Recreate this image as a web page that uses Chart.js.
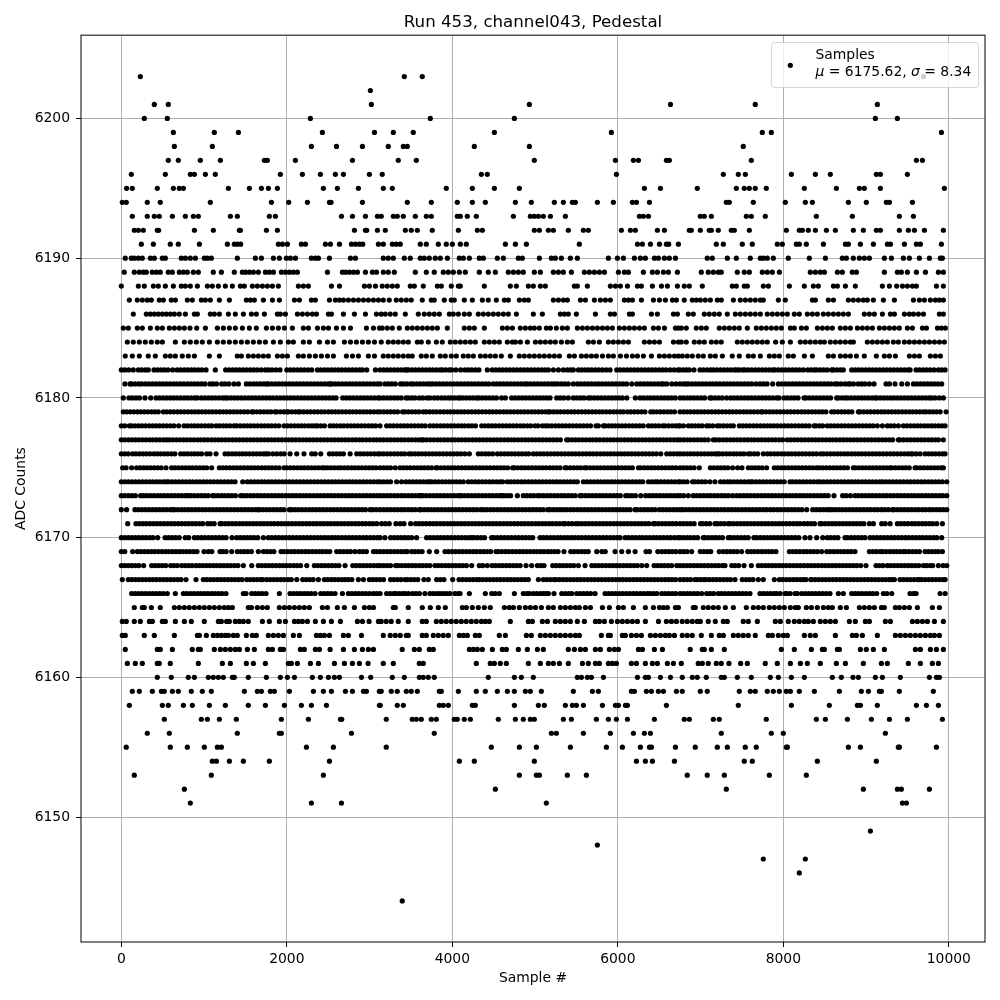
<!DOCTYPE html>
<html>
<head>
<meta charset="utf-8">
<title>Run 453, channel043, Pedestal</title>
<script src="https://cdn.jsdelivr.net/npm/chart.js@4/dist/chart.umd.min.js"></script>
<style>
html, body { margin: 0; padding: 0; background: #fff; }
canvas { display: block; }
</style>
</head>
<body>
<canvas id="grafico" width="1000" height="1000"></canvas>
<script>
// sample numbers, one list per ADC level
const adc6203 = [230,3420,3637,9693];
const adc6202 = [3010];
const adc6201 = [399,568,3022,4931,6636,7661,9136];
const adc6200 = [278,556,2285,3734,4750,9112,9378];
const adc6199 = [629,1124,1415,2430,3059,3287,3528,4508,5922,7746,7855,9910];
const adc6198 = [641,1100,2297,2600,2914,3226,3408,3456,4266,4931,7516];
const adc6197 = [568,689,955,1197,1729,1765,2104,2793,3347,3565,4991,5971,6188,6249,6587,6623,7613,9608,9681];
const adc6196 = [121,532,834,883,1016,1136,1922,2188,2406,2587,2684,2998,3153,4351,4423,5983,7275,7456,7541,8097,8387,8568,9124,9173,9499];
const adc6195 = [64,133,435,629,701,750,1294,1548,1693,1777,1886,2442,2611,2865,3166,3275,3927,4242,4508,4810,6321,6515,6960,7432,7528,7589,7661,7794,8254,8641,8919,8979,9173,9946];
const adc6194 = [12,60,314,471,1076,1814,2023,2249,2515,2535,2914,3456,3746,4060,4242,4399,4762,4955,5233,5342,5451,5487,5753,5946,6176,6225,6382,7311,7347,7637,8024,8266,8351,8786,9003,9245,9282,9560];
const adc6193 = [133,314,399,459,617,774,870,931,1318,1402,1789,1862,2660,2793,2950,3095,3141,3287,3335,3408,3553,3686,3746,4060,4097,4181,4290,4738,4943,4991,5040,5100,5185,5366,6261,6309,6370,6997,7045,7130,7553,7613,7782,8399,8834,9402,9572];
const adc6192 = [157,206,266,435,451,883,1112,1427,1439,1753,1886,2817,2950,2966,3095,3190,3432,3504,3577,3758,4073,4302,4363,4991,5052,5161,5221,5402,5584,5644,6043,6152,6212,6478,6563,6864,6888,6997,7105,7130,7214,7371,7408,7589,8036,8193,8230,8302,8387,8520,8629,8846,8967,9124,9173,9402,9511,9584,9705,9934];
const adc6191 = [242,387,592,689,943,1282,1366,1402,1443,1898,1947,2007,2176,2225,2466,2527,2636,2781,2829,2877,2918,3107,3166,3275,3323,3371,3613,3686,3831,3927,4000,4097,4169,4641,4762,4895,5535,6237,6297,6394,6503,6587,6615,6732,7190,7275,7504,7625,7927,7988,8157,8193,8278,8484,8750,8786,8931,9088,9257,9294,9463,9608,9656,9910];
const adc6190 = [48,121,157,206,254,351,399,496,532,725,774,834,895,1003,1040,1088,1402,1620,1693,1838,1910,1995,2043,2104,2297,2345,2382,2515,2769,2829,3166,3226,3287,3420,3492,3613,3661,3722,3794,3855,3940,4085,4133,4206,4326,4375,4544,4617,4798,4846,5052,5197,5245,5318,5427,5511,5886,5995,6067,6200,6273,6333,6442,6490,6563,6623,6696,7081,7142,7323,7432,7601,7722,7758,7806,7879,8060,8314,8508,8713,8762,8846,8919,8979,9040,9221,9306,9451,9523,9644,9765,9898,9922];
const adc6189 = [36,157,218,266,302,375,423,471,568,617,701,750,798,870,931,1112,1209,1366,1463,1503,1548,1596,1656,1741,1789,1838,1934,1983,2031,2079,2128,2491,2672,2712,2757,2805,2853,2950,3035,3083,3166,3226,3299,3553,3686,3782,3891,3952,4012,4085,4157,4326,4435,4520,4677,4738,4798,4858,4991,5064,5221,5282,5342,5439,5596,5656,5717,5777,5838,6007,6079,6128,6309,6418,6478,6551,6611,6720,7009,7093,7154,7214,7250,7444,7528,7589,7746,7806,7867,7952,8326,8387,8447,8496,8653,8713,8834,8883,9221,9378,9426,9499,9608,9717,9874,9934];
const adc6188 = [0,206,278,387,447,532,629,725,774,834,919,1040,1100,1173,1257,1342,1439,1487,1584,1644,1705,1765,1826,1898,2140,2200,2261,2539,2636,2938,2998,3071,3153,3214,3275,3335,3492,3541,3649,3819,3867,3988,4073,4097,4387,4701,4774,4919,4979,5064,5124,5475,5511,5632,5910,5971,6031,6116,6237,6285,6418,6527,6599,6720,6803,6864,7021,7383,7432,7528,7565,7758,7819,8073,8254,8363,8423,8605,8653,8750,8870,9197,9282,9370,9439,9499,9560,9608,9850,9934];
const adc6187 = [97,193,254,314,363,459,508,604,653,798,858,967,1016,1076,1185,1306,1511,1560,1608,1717,1826,1910,2092,2152,2297,2345,2515,2587,2636,2684,2744,2805,2865,2926,2986,3047,3107,3166,3238,3323,3383,3444,3504,3637,3746,3782,3903,3988,4024,4145,4242,4363,4435,4532,4629,4677,4810,4870,4919,5221,5282,5342,5390,5548,5608,5717,5789,5850,5910,6079,6128,6176,6285,6430,6503,6575,6660,6708,6803,6900,6948,6997,7057,7118,7202,7250,7396,7480,7541,7601,7661,7722,7758,7940,8024,8351,8387,8544,8605,8786,8846,8907,8967,9015,9088,9209,9342,9572,9644,9705,9777,9838,9886,9934];
const adc6186 = [145,302,351,399,447,496,544,592,641,701,774,883,919,1076,1124,1185,1294,1378,1475,1572,1632,1729,1886,1922,1983,2128,2188,2249,2309,2358,2503,2539,2684,2817,2950,3083,3141,3190,3250,3311,3432,3589,3661,3722,3782,3843,3964,4012,4073,4145,4206,4314,4375,4435,4496,4556,4617,4677,4774,4979,5088,5306,5354,5402,5499,5729,5910,5959,6140,6176,6406,6478,6672,6720,6852,6912,7045,7105,7166,7226,7323,7420,7480,7541,7601,7661,7722,7806,7867,7927,7988,8048,8133,8193,8290,8351,8411,8484,8544,8605,8665,8725,8786,8979,9040,9100,9197,9294,9342,9463,9523,9572,9632,9693,9886,9934];
const adc6185 = [24,85,193,254,351,435,496,580,641,701,762,830,911,1016,1161,1233,1306,1378,1463,1548,1632,1753,1826,1898,1971,2067,2200,2261,2370,2442,2503,2600,2684,2769,2962,3047,3119,3153,3214,3275,3359,3456,3516,3577,3637,3698,3758,3819,3940,4145,4206,4266,4387,4605,4665,4726,4822,4883,4943,4991,5052,5137,5185,5257,5330,5390,5511,5572,5632,5693,5753,5814,5874,5934,6019,6079,6140,6200,6261,6321,6430,6490,6563,6696,6732,6767,6827,6948,7009,7069,7226,7287,7347,7408,7468,7565,7674,7734,7794,7855,7915,7976,8085,8133,8218,8278,8411,8472,8532,8592,8689,8750,8810,8895,8955,9015,9076,9161,9221,9282,9342,9402,9499,9560,9681,9729,9862,9910,9958];
const adc6184 = [73,145,218,290,363,435,496,653,762,834,907,979,1064,1161,1233,1306,1378,1451,1523,1596,1669,1741,1838,1922,2019,2079,2200,2273,2394,2491,2563,2696,2769,2841,2914,2986,3059,3141,3226,3287,3347,3408,3468,3577,3625,3710,3807,3879,3976,4036,4097,4157,4218,4278,4387,4447,4508,4568,4665,4726,4762,4822,4907,5004,5064,5124,5185,5245,5318,5390,5451,5644,5705,5777,5886,5946,6007,6067,6128,6321,6382,6442,6503,6672,6732,6767,6827,6924,6985,7045,7130,7190,7250,7444,7504,7565,7625,7686,7746,7806,7907,7988,8085,8206,8266,8326,8387,8447,8496,8568,8629,8689,8750,8810,8846,9015,9076,9136,9197,9257,9330,9390,9463,9523,9584,9644,9705,9765,9826,9886,9946];
const adc6183 = [48,133,218,326,411,532,592,653,737,810,883,1064,1185,1402,1451,1535,1596,1656,1717,1777,1886,1947,2007,2140,2200,2273,2345,2418,2491,2563,2720,2793,2865,2986,3059,3166,3226,3287,3347,3408,3468,3516,3625,3686,3758,3855,3915,3988,4048,4133,4193,4254,4339,4399,4459,4520,4592,4701,4810,4870,4931,4991,5052,5112,5173,5233,5294,5414,5475,5560,5620,5681,5741,5814,5886,5946,6031,6104,6176,6237,6309,6406,6503,6563,6623,6684,6732,6779,6839,6900,6972,7033,7118,7178,7263,7383,7468,7577,7637,7722,7831,7891,7952,8060,8121,8254,8351,8544,8605,8689,8750,8810,8883,8979,9124,9221,9282,9354,9523,9584,9644,9777,9838,9898];
const adc6182 = [0,42,90,145,206,248,290,326,395,437,480,522,565,620,675,717,760,802,845,887,930,972,1024,1136,1261,1303,1346,1388,1431,1473,1516,1558,1601,1643,1690,1741,1777,1820,1870,1918,2000,2042,2085,2127,2170,2212,2258,2301,2370,2412,2455,2497,2540,2582,2625,2667,2710,2752,2795,2837,2880,2914,2966,3071,3127,3170,3212,3255,3297,3340,3382,3425,3448,3468,3510,3553,3595,3638,3680,3723,3765,3808,3851,3879,3921,3963,3992,4044,4101,4153,4194,4236,4280,4322,4423,4483,4525,4568,4610,4653,4695,4738,4780,4823,4865,4908,4950,4993,5035,5078,5120,5161,5221,5282,5342,5390,5430,5463,5524,5564,5604,5644,5686,5729,5771,5814,5860,5906,5987,6029,6072,6114,6157,6199,6242,6284,6327,6369,6412,6454,6497,6539,6582,6632,6680,6728,6751,6793,6830,6864,6920,6993,7035,7080,7122,7154,7196,7239,7281,7324,7366,7409,7436,7468,7510,7537,7577,7619,7662,7704,7747,7789,7832,7874,7899,7940,7982,8025,8067,8110,8152,8195,8242,8294,8335,8375,8403,8445,8488,8530,8584,8605,8647,8690,8725,8826,8868,8911,8953,8996,9038,9081,9123,9166,9208,9251,9293,9336,9378,9421,9463,9506,9532,9604,9646,9689,9731,9774,9822,9874,9915,9955];
const adc6181 = [44,105,125,167,210,246,290,332,375,417,460,502,545,587,630,672,715,757,800,842,885,927,970,1012,1072,1108,1150,1213,1253,1300,1362,1415,1511,1553,1596,1638,1681,1723,1757,1777,1819,1862,1904,1947,1989,2032,2074,2117,2159,2202,2244,2287,2329,2372,2414,2457,2499,2523,2543,2585,2628,2670,2713,2755,2798,2840,2883,2925,2968,3010,3053,3095,3127,3185,3226,3268,3311,3375,3408,3450,3496,3528,3570,3613,3655,3698,3730,3762,3804,3847,3889,3932,3974,4017,4059,4102,4144,4187,4229,4272,4314,4357,4399,4442,4496,4536,4578,4621,4663,4706,4748,4791,4833,4876,4907,4947,4989,5032,5074,5117,5159,5202,5237,5274,5316,5359,5401,5463,5511,5553,5596,5638,5681,5725,5766,5808,5851,5893,5936,5978,6021,6063,6106,6168,6229,6271,6314,6356,6399,6441,6484,6526,6551,6591,6652,6704,6752,6795,6823,6852,6894,6937,6979,7022,7064,7107,7149,7192,7234,7277,7319,7362,7404,7447,7489,7532,7574,7617,7670,7718,7760,7803,7871,7940,7982,8025,8067,8110,8152,8195,8237,8280,8322,8365,8407,8450,8492,8535,8577,8625,8653,8695,8745,8786,8806,8848,8905,8947,8987,9040,9096,9241,9283,9350,9431,9499,9572,9614,9657,9699,9742,9784,9827,9869,9914];
const adc6180 = [24,93,135,178,220,286,355,419,461,504,546,589,631,674,716,759,801,844,886,919,967,1009,1052,1094,1137,1179,1222,1253,1282,1324,1367,1409,1452,1494,1537,1579,1622,1664,1707,1749,1792,1834,1877,1919,1962,2004,2047,2089,2132,2174,2217,2259,2302,2344,2387,2429,2472,2514,2557,2595,2676,2718,2761,2803,2846,2888,2931,2973,3016,3058,3101,3127,3169,3212,3254,3297,3339,3382,3440,3468,3510,3548,3601,3643,3695,3730,3782,3824,3867,3909,3952,3984,4026,4069,4093,4125,4167,4210,4252,4294,4322,4364,4407,4449,4492,4534,4596,4641,4717,4759,4802,4844,4887,4929,4972,5014,5057,5099,5142,5181,5262,5304,5347,5402,5463,5505,5548,5590,5644,5673,5715,5758,5800,5843,5885,5928,5970,6013,6055,6108,6212,6269,6311,6354,6396,6439,6481,6524,6566,6609,6651,6694,6752,6794,6837,6879,6922,6964,7007,7049,7113,7134,7176,7219,7261,7315,7363,7405,7448,7490,7533,7575,7618,7660,7703,7745,7788,7830,7873,7919,7948,8008,8050,8093,8135,8178,8250,8274,8316,8359,8401,8444,8486,8529,8571,8645,8665,8707,8746,8778,8820,8863,8905,8948,8987,9029,9072,9108,9128,9170,9213,9255,9298,9338,9378,9420,9463,9505,9548,9590,9633,9675,9718,9760,9793,9834,9885,9934];
const adc6179 = [24,66,109,151,194,236,279,321,364,406,447,508,550,593,635,678,720,763,805,848,890,933,975,1018,1060,1103,1145,1188,1230,1273,1315,1358,1400,1443,1485,1528,1576,1596,1638,1681,1723,1766,1808,1858,1878,1920,1963,1999,2019,2061,2104,2140,2160,2202,2245,2287,2330,2372,2415,2457,2503,2543,2585,2628,2670,2713,2755,2798,2840,2883,2925,2968,3010,3053,3095,3127,3169,3212,3254,3297,3339,3399,3428,3470,3513,3555,3598,3649,3682,3724,3767,3809,3852,3894,3937,3979,4022,4064,4107,4149,4192,4234,4277,4319,4362,4404,4447,4489,4532,4574,4617,4659,4702,4744,4787,4829,4872,4914,4957,4999,5042,5084,5127,5161,5181,5223,5266,5308,5351,5393,5436,5478,5521,5563,5606,5648,5691,5733,5776,5818,5861,5903,5946,5988,6031,6067,6116,6158,6201,6243,6286,6328,6398,6430,6472,6515,6557,6600,6642,6685,6752,6794,6837,6879,6922,6964,7007,7049,7092,7134,7177,7219,7262,7304,7347,7389,7432,7474,7517,7559,7602,7644,7687,7730,7750,7792,7835,7877,7920,7962,8005,8047,8090,8132,8175,8217,8260,8302,8345,8387,8430,8472,8515,8584,8617,8659,8702,8744,8787,8829,8907,8927,8969,9012,9054,9097,9139,9182,9224,9267,9309,9352,9394,9437,9479,9522,9564,9607,9649,9693,9725,9767,9810,9852,9895,9967];
const adc6178 = [0,42,97,125,167,210,252,295,337,380,422,465,507,550,592,635,693,758,800,843,885,928,970,1013,1055,1092,1145,1187,1230,1272,1315,1362,1394,1436,1479,1521,1564,1606,1649,1691,1734,1776,1819,1861,1904,1967,2007,2049,2092,2134,2177,2219,2262,2304,2341,2370,2412,2455,2523,2563,2605,2648,2690,2733,2775,2818,2860,2903,2945,2988,3030,3073,3127,3206,3248,3291,3333,3376,3418,3461,3503,3546,3588,3631,3673,3730,3770,3812,3855,3897,3940,3982,4025,4067,4110,4152,4195,4237,4280,4355,4395,4437,4480,4522,4565,4607,4650,4692,4735,4777,4820,4862,4905,4947,4999,5036,5090,5128,5161,5203,5246,5288,5331,5373,5416,5458,5501,5543,5586,5628,5671,5737,5765,5826,5846,5888,5926,5967,6009,6052,6094,6137,6179,6222,6264,6307,6370,6410,6452,6495,6543,6571,6613,6656,6698,6732,6751,6793,6852,6892,6934,6977,7019,7073,7105,7147,7202,7234,7276,7319,7361,7396,7468,7510,7553,7595,7638,7680,7723,7765,7808,7847,7887,7929,7972,8014,8057,8099,8142,8184,8227,8269,8312,8371,8395,8437,8476,8532,8574,8617,8659,8702,8744,8787,8829,8872,8914,8957,8999,9042,9084,9136,9197,9257,9298,9340,9390,9451,9493,9536,9578,9621,9663,9706,9748,9791,9833,9876,9918,9955];
const adc6177 = [0,42,85,127,170,212,255,297,340,382,425,467,510,548,580,622,665,707,750,792,835,877,920,962,1005,1047,1090,1132,1175,1217,1260,1302,1345,1387,1430,1472,1515,1557,1600,1642,1685,1727,1770,1812,1855,1897,1940,1982,2025,2067,2110,2152,2195,2237,2280,2322,2365,2407,2450,2492,2535,2577,2620,2662,2705,2747,2790,2832,2875,2917,2960,3002,3045,3087,3127,3169,3212,3254,3297,3339,3382,3424,3467,3509,3552,3594,3629,3649,3691,3734,3776,3819,3861,3904,3946,3989,4031,4074,4116,4159,4201,4244,4286,4329,4371,4414,4456,4499,4541,4584,4626,4669,4711,4754,4796,4839,4881,4924,4966,5009,5051,5094,5136,5179,5221,5264,5306,5382,5402,5444,5487,5529,5572,5614,5657,5699,5742,5784,5827,5869,5912,5954,5997,6039,6082,6124,6167,6209,6252,6294,6337,6379,6422,6464,6507,6549,6592,6634,6677,6719,6752,6794,6837,6879,6922,6964,7007,7049,7092,7154,7186,7228,7271,7313,7356,7398,7441,7483,7526,7568,7611,7653,7696,7738,7781,7823,7866,7908,7951,7993,8048,8089,8131,8174,8216,8259,8301,8344,8386,8429,8471,8514,8556,8599,8641,8684,8726,8769,8811,8854,8896,8939,8981,9024,9066,9109,9151,9194,9236,9279,9321,9390,9410,9452,9495,9537,9580,9622,9665,9707,9750,9792,9835,9874,9934];
const adc6176 = [0,42,85,137,177,219,262,304,347,395,435,477,520,562,605,647,717,758,800,843,885,928,970,1032,1072,1145,1253,1295,1338,1380,1423,1465,1508,1550,1593,1635,1678,1720,1749,1777,1830,1878,1926,1968,2039,2120,2208,2301,2343,2410,2515,2557,2600,2642,2684,2765,2845,2887,2930,2972,3015,3057,3100,3127,3169,3212,3254,3297,3339,3382,3424,3476,3508,3550,3593,3635,3678,3720,3763,3805,3848,3890,3933,3975,4018,4060,4103,4153,4206,4314,4356,4399,4441,4487,4544,4586,4629,4671,4714,4756,4799,4841,4884,4923,4979,5021,5064,5106,5149,5191,5234,5276,5319,5361,5404,5446,5489,5531,5574,5616,5659,5701,5744,5786,5829,5871,5914,5956,5999,6041,6084,6126,6168,6209,6251,6294,6336,6379,6421,6466,6519,6591,6633,6676,6718,6752,6794,6837,6879,6922,6964,7007,7049,7092,7134,7177,7202,7226,7268,7311,7353,7396,7438,7481,7523,7577,7605,7647,7690,7758,7806,7848,7891,7933,7976,8018,8061,8103,8146,8188,8231,8273,8316,8358,8401,8451,8484,8526,8569,8611,8654,8696,8739,8781,8824,8866,8909,8951,8994,9036,9079,9121,9164,9206,9249,9291,9334,9376,9419,9461,9504,9540,9564,9606,9653,9713,9755,9798,9840,9883,9925,9955];
const adc6175 = [16,58,125,185,227,270,312,355,397,440,482,540,608,650,693,735,778,820,863,905,948,990,1033,1092,1185,1227,1270,1312,1355,1397,1440,1482,1525,1567,1610,1652,1695,1737,1780,1822,1865,1907,1967,2000,2042,2085,2127,2170,2212,2255,2297,2340,2382,2425,2454,2491,2533,2576,2618,2652,2696,2738,2781,2823,2866,2908,2951,2993,3036,3078,3127,3169,3212,3254,3310,3367,3409,3452,3494,3537,3579,3622,3664,3707,3749,3802,3819,3861,3904,3946,3989,4031,4074,4116,4159,4201,4244,4286,4329,4371,4414,4456,4499,4541,4584,4626,4669,4729,4750,4792,4835,4877,4920,4962,5005,5047,5090,5132,5175,5217,5260,5302,5362,5382,5424,5467,5509,5552,5600,5624,5666,5709,5751,5794,5836,5879,5921,5964,6006,6049,6091,6134,6176,6249,6277,6319,6362,6404,6447,6489,6532,6574,6617,6659,6702,6752,6794,6837,6879,6922,6985,7118,7160,7203,7245,7288,7330,7387,7448,7500,7577,7617,7659,7702,7744,7798,7891,7933,7976,8018,8061,8103,8146,8188,8231,8273,8316,8358,8403,8435,8477,8520,8562,8605,8647,8690,8732,8775,8846,8870,8912,8955,8997,9040,9082,9125,9167,9210,9252,9290,9310,9352,9395,9437,9480,9522,9592,9612,9654,9697,9739,9782,9824,9867,9909,9934];
const adc6174 = [0,42,85,127,170,212,255,297,340,382,425,467,510,540,568,610,653,695,738,780,823,865,908,950,993,1035,1078,1120,1163,1205,1248,1290,1333,1375,1467,1523,1565,1608,1650,1693,1735,1778,1820,1863,1905,1948,1990,2033,2075,2118,2160,2203,2245,2288,2330,2373,2415,2458,2500,2543,2585,2628,2670,2713,2755,2798,2840,2883,2925,2968,3010,3053,3095,3127,3169,3212,3254,3327,3387,3440,3482,3525,3567,3610,3652,3695,3722,3750,3792,3835,3877,3920,3962,4005,4047,4090,4133,4193,4235,4278,4320,4363,4405,4448,4490,4533,4575,4608,4665,4707,4750,4792,4835,4877,4920,4962,5005,5047,5090,5132,5175,5217,5260,5302,5345,5387,5430,5472,5511,5584,5626,5669,5711,5754,5796,5839,5881,5924,5966,6009,6051,6094,6136,6179,6221,6264,6301,6370,6412,6450,6478,6520,6563,6605,6648,6690,6732,6752,6794,6837,6904,6932,6974,7017,7059,7113,7174,7242,7284,7327,7363,7404,7446,7489,7531,7574,7605,7629,7671,7714,7756,7799,7841,7884,7926,7969,8011,8081,8113,8155,8198,8240,8283,8325,8368,8411,8443,8485,8528,8570,8613,8655,8698,8740,8783,8825,8868,8910,8953,8995,9038,9080,9123,9165,9201,9241,9283,9326,9368,9411,9453,9496,9538,9581,9623,9666,9708,9751,9793,9836,9878,9921,9975];
const adc6173 = [0,42,85,127,170,234,266,308,351,393,436,478,521,563,606,648,691,733,776,802,838,880,923,965,1008,1050,1104,1124,1166,1209,1251,1294,1336,1379,1443,1475,1517,1560,1602,1645,1687,1730,1772,1815,1857,1900,1942,1985,2027,2070,2112,2155,2197,2240,2282,2325,2367,2410,2452,2495,2537,2580,2622,2665,2707,2750,2792,2835,2877,2920,2962,3005,3047,3090,3127,3169,3212,3254,3297,3339,3382,3424,3467,3509,3552,3594,3617,3641,3683,3726,3768,3811,3853,3896,3938,3981,4023,4066,4093,4105,4147,4190,4232,4275,4317,4360,4402,4445,4487,4530,4572,4596,4625,4667,4705,4786,4858,4900,4943,4985,5032,5060,5102,5145,5187,5230,5272,5315,5357,5400,5442,5485,5544,5564,5606,5649,5691,5734,5776,5819,5861,5904,5946,5989,6031,6096,6128,6170,6213,6277,6337,6379,6422,6464,6507,6549,6592,6634,6677,6719,6752,6794,6852,6912,6954,6997,7039,7082,7124,7167,7209,7252,7294,7337,7387,7436,7478,7521,7563,7606,7648,7691,7733,7776,7818,7861,7903,7946,7988,8031,8073,8116,8158,8201,8243,8286,8328,8371,8413,8456,8498,8541,8612,8717,8759,8810,8866,8908,8951,8993,9036,9078,9121,9163,9206,9248,9291,9333,9376,9418,9461,9503,9546,9588,9631,9673,9716,9758,9801,9843,9886,9928,9975];
const adc6172 = [0,64,165,207,250,292,335,377,420,462,505,547,590,620,641,683,726,768,811,853,896,938,981,1023,1066,1108,1151,1193,1236,1278,1321,1363,1406,1448,1491,1533,1576,1618,1649,1669,1711,1754,1796,1839,1881,1924,1966,2031,2059,2101,2144,2186,2229,2271,2314,2356,2399,2441,2484,2526,2569,2611,2654,2696,2739,2781,2824,2866,2909,2951,3007,3039,3081,3127,3169,3212,3254,3297,3339,3382,3424,3467,3509,3552,3601,3617,3659,3702,3744,3787,3829,3872,3914,3957,3999,4042,4084,4127,4169,4212,4254,4297,4343,4375,4417,4460,4502,4545,4587,4630,4672,4715,4758,4802,4844,4887,4929,4972,5014,5057,5099,5153,5181,5223,5266,5302,5342,5384,5427,5469,5512,5554,5597,5639,5682,5724,5767,5809,5852,5894,5937,5979,6022,6064,6107,6149,6208,6237,6279,6322,6364,6407,6450,6503,6545,6588,6630,6673,6715,6752,6783,6823,6865,6908,6950,6993,7035,7078,7122,7162,7204,7247,7289,7332,7374,7417,7459,7502,7544,7587,7629,7672,7714,7757,7799,7842,7884,7927,7969,8012,8054,8097,8139,8182,8224,8282,8355,8397,8440,8482,8525,8556,8588,8630,8673,8715,8758,8800,8843,8885,8928,8970,9013,9055,9098,9140,9183,9225,9268,9318,9338,9380,9423,9465,9508,9550,9593,9635,9678,9720,9763,9805,9848,9890,9933,9975];
const adc6171 = [77,177,219,262,304,347,389,432,474,517,559,602,644,687,729,772,814,857,899,942,984,1044,1080,1122,1193,1213,1255,1298,1340,1383,1425,1468,1510,1553,1595,1638,1680,1723,1765,1808,1850,1893,1935,1978,2020,2063,2105,2148,2190,2233,2275,2318,2360,2403,2445,2488,2530,2573,2615,2658,2700,2743,2785,2828,2870,2913,2955,2998,3040,3087,3145,3190,3238,3319,3370,3416,3496,3557,3599,3642,3684,3727,3769,3812,3854,3897,3939,3982,4024,4067,4109,4152,4194,4237,4279,4322,4364,4407,4449,4492,4534,4577,4619,4662,4704,4747,4789,4832,4874,4917,4959,5002,5044,5087,5129,5172,5214,5257,5299,5342,5362,5404,5447,5495,5524,5566,5609,5651,5694,5736,5779,5821,5864,5906,5949,5991,6034,6076,6119,6161,6204,6246,6289,6331,6374,6430,6450,6492,6535,6577,6620,6662,6705,6752,6794,6837,6879,6922,7000,7025,7067,7110,7174,7202,7244,7287,7335,7355,7397,7440,7482,7525,7567,7610,7652,7695,7737,7780,7822,7865,7907,7950,7992,8035,8077,8120,8162,8201,8250,8292,8335,8377,8443,8463,8505,8548,8590,8633,8675,8718,8760,8803,8845,8888,8930,8973,9040,9088,9189,9231,9290,9378,9420,9463,9505,9552,9592,9634,9677,9719,9762,9804,9854,9922];
const adc6170 = [0,42,85,127,170,212,255,297,340,382,439,530,572,615,657,700,773,814,883,925,968,1010,1053,1095,1138,1180,1223,1265,1338,1394,1436,1479,1521,1564,1606,1649,1717,1777,1819,1862,1904,1947,1989,2032,2074,2117,2159,2202,2244,2287,2329,2372,2414,2457,2499,2543,2583,2625,2668,2710,2753,2795,2838,2880,2923,2965,3008,3050,3093,3127,3185,3254,3296,3339,3381,3424,3466,3509,3569,3690,3732,3775,3817,3860,3902,3945,3987,4030,4072,4115,4157,4200,4234,4262,4304,4347,4389,4475,4504,4546,4589,4631,4674,4716,4759,4801,4844,4886,4929,4971,5060,5100,5142,5185,5227,5270,5312,5355,5397,5440,5482,5525,5567,5610,5652,5695,5737,5780,5822,5865,5907,5950,5992,6027,6088,6130,6173,6215,6258,6300,6343,6385,6428,6470,6513,6555,6598,6640,6683,6725,6752,6794,6837,6879,6922,6964,7033,7053,7095,7138,7180,7223,7265,7335,7363,7405,7448,7490,7533,7575,7645,7678,7720,7763,7805,7848,7890,7933,7975,8018,8060,8103,8145,8188,8262,8322,8403,8476,8532,8574,8617,8659,8746,8778,8820,8863,8905,8948,8987,9048,9090,9133,9175,9218,9260,9303,9345,9388,9430,9473,9515,9558,9600,9643,9685,9728,9770,9813,9855,9914];
const adc6169 = [0,42,137,193,235,278,320,363,405,448,490,533,575,618,660,703,745,788,830,873,915,999,1052,1094,1193,1225,1267,1334,1402,1444,1487,1529,1572,1656,1717,1759,1802,1844,1930,1967,2009,2052,2094,2137,2179,2222,2264,2307,2349,2392,2434,2477,2519,2603,2644,2686,2729,2771,2825,2877,2919,2962,3047,3087,3127,3169,3212,3254,3297,3339,3382,3424,3456,3508,3550,3593,3635,3722,3811,3911,3953,3996,4038,4081,4123,4166,4208,4251,4293,4336,4378,4421,4463,4528,4556,4598,4641,4683,4726,4768,4811,4853,4896,4938,4981,5023,5066,5108,5151,5193,5236,5278,5350,5431,5473,5516,5558,5601,5643,5745,5806,5848,5967,6047,6128,6209,6341,6383,6483,6531,6573,6616,6658,6701,6752,6794,6837,6892,6997,7039,7082,7124,7226,7275,7317,7360,7402,7444,7496,7569,7611,7654,7696,7739,7781,7824,7866,7911,8073,8115,8158,8200,8243,8285,8328,8370,8413,8463,8524,8566,8609,8651,8694,8736,8779,8821,8866,9040,9082,9125,9169,9201,9243,9286,9328,9371,9413,9451,9475,9517,9560,9602,9645,9713,9753,9795,9838,9874,9922];
const adc6168 = [0,42,85,127,170,212,270,367,409,452,494,537,596,636,677,729,771,814,856,903,943,985,1028,1070,1113,1155,1198,1240,1283,1325,1368,1410,1475,1576,1656,1698,1741,1783,1826,1868,1911,1953,1996,2038,2081,2123,2166,2241,2333,2375,2418,2460,2503,2545,2588,2630,2704,2797,2839,2882,2924,2967,3009,3052,3094,3127,3169,3212,3254,3315,3347,3389,3432,3474,3517,3559,3602,3644,3687,3729,3790,3831,3873,3916,3958,4001,4043,4086,4128,4171,4234,4326,4368,4423,4480,4522,4565,4607,4650,4692,4735,4777,4820,4891,4959,5028,5070,5108,5213,5255,5298,5340,5383,5425,5468,5523,5604,5685,5727,5770,5812,5855,5897,5940,5982,6025,6067,6110,6152,6195,6237,6289,6349,6438,6480,6523,6565,6608,6650,6712,6751,6793,6836,6878,6921,6963,7006,7048,7091,7133,7176,7218,7261,7295,7376,7418,7461,7525,7613,7698,7740,7783,7825,7868,7910,7953,7995,8038,8080,8123,8165,8208,8250,8293,8335,8378,8420,8463,8505,8548,8590,8633,8675,8718,8760,8803,8845,8888,8935,8999,9120,9162,9205,9257,9298,9340,9383,9425,9468,9510,9553,9595,9638,9693,9733,9775,9805,9874,9930,9975];
const adc6167 = [12,85,127,170,212,255,297,340,382,425,467,510,552,595,637,680,722,782,903,991,1033,1076,1118,1161,1203,1246,1288,1331,1373,1416,1458,1515,1556,1598,1641,1683,1709,1757,1799,1842,1884,1927,1969,2012,2054,2120,2192,2234,2277,2319,2382,2454,2496,2539,2581,2624,2666,2704,2744,2786,2865,2926,2998,3040,3083,3127,3169,3254,3294,3336,3379,3428,3456,3498,3541,3583,3657,3710,3811,3855,3899,4004,4081,4123,4166,4208,4251,4294,4326,4368,4411,4453,4496,4538,4581,4623,4666,4708,4751,4793,4836,4878,4919,5040,5100,5142,5185,5229,5253,5295,5338,5380,5423,5465,5508,5550,5593,5635,5678,5720,5763,5805,5848,5890,5933,5975,6018,6060,6103,6145,6188,6230,6273,6315,6358,6400,6443,6485,6528,6570,6613,6655,6698,6752,6794,6837,6879,6932,6960,7002,7041,7065,7107,7150,7192,7235,7277,7320,7362,7416,7504,7549,7591,7634,7698,7758,7891,7952,7994,8037,8079,8122,8164,8207,8242,8274,8331,8343,8385,8428,8470,8513,8555,8598,8640,8683,8725,8768,8810,8853,8895,8938,8980,9023,9065,9108,9150,9193,9235,9278,9310,9342,9410,9452,9495,9537,9580,9622,9644,9673,9715,9758,9800,9843,9885,9928,9955];
const adc6166 = [125,167,210,252,295,337,380,422,465,507,556,653,750,792,835,877,920,962,1005,1047,1090,1132,1175,1217,1265,1475,1507,1576,1618,1661,1703,1749,1910,2039,2081,2124,2166,2209,2251,2294,2341,2410,2452,2495,2537,2583,2672,2744,2786,2829,2871,2914,2956,2999,3047,3087,3127,3206,3250,3294,3319,3360,3400,3428,3470,3520,3561,3603,3669,3730,3772,3815,3851,3891,3933,3972,4032,4074,4093,4206,4399,4476,4518,4568,4750,4858,4900,4931,4979,5021,5064,5100,5133,5161,5229,5322,5364,5407,5443,5503,5545,5588,5630,5673,5725,5846,5888,5931,5973,6016,6058,6101,6143,6186,6228,6271,6313,6356,6390,6430,6472,6531,6571,6613,6656,6698,6752,6794,6837,6879,6922,6964,7013,7073,7115,7158,7214,7254,7296,7339,7381,7424,7466,7509,7551,7597,7718,7760,7803,7845,7887,7919,7961,8020,8040,8082,8141,8169,8222,8264,8307,8349,8392,8434,8477,8519,8564,8665,8725,8826,8868,8911,8953,8996,9038,9081,9128,9209,9251,9310,9531,9573,9604,9894,9955];
const adc6165 = [157,254,278,363,471,641,701,762,822,883,943,1003,1064,1124,1185,1245,1294,1342,1535,1572,1644,1705,1765,1910,1971,2031,2092,2152,2212,2273,2430,2491,2611,2696,2817,2938,2998,3047,3287,3311,3468,3637,3734,3831,3915,4121,4169,4242,4314,4387,4459,4629,4689,4738,4810,4883,4943,5004,5076,5161,5221,5306,5366,5427,5487,5535,5608,5669,5814,5898,6007,6067,6188,6333,6430,6503,6551,6599,6696,6732,6912,6936,7033,7093,7154,7214,7299,7396,7553,7637,7698,7758,7831,7891,7952,8012,8085,8145,8181,8278,8339,8411,8484,8544,8592,8689,8762,8919,8979,9040,9100,9185,9221,9354,9402,9463,9523,9620,9801,9886];
const adc6164 = [12,60,157,230,339,375,496,532,653,762,846,1003,1173,1209,1273,1306,1378,1427,1475,1535,1705,1789,1910,1983,2092,2140,2188,2249,2345,2442,2539,2648,2853,2914,2994,3107,3141,3202,3262,3347,3468,3637,3686,3807,3867,3927,3988,4048,4109,4169,4230,4290,4351,4399,4447,4701,4919,4967,5088,5149,5245,5306,5366,5427,5511,5596,5729,5777,5838,5922,5995,6055,6116,6176,6237,6333,6491,6587,6648,6708,6779,6839,6900,6960,6997,7093,7178,7275,7323,7516,7577,7686,7903,7964,8060,8133,8193,8254,8302,8363,8447,8508,8568,8629,8798,8870,8991,9040,9233,9294,9560,9620,9681,9741,9826,9934];
const adc6163 = [12,48,278,399,641,919,943,1028,1112,1161,1209,1257,1294,1354,1402,1511,1584,1632,1777,1838,1898,1959,2079,2152,2358,2406,2454,2515,2684,2744,2902,3166,3250,3311,3371,3444,3468,3637,3686,3770,3831,3891,3952,4085,4133,4181,4278,4326,4568,4641,4895,4955,5064,5124,5185,5245,5306,5366,5427,5487,5535,5801,5886,5910,6055,6092,6164,6225,6285,6394,6454,6515,6575,6623,6684,6779,6839,6900,7009,7130,7226,7275,7396,7456,7516,7577,7661,7819,7867,7940,8000,8048,8254,8326,8387,8629,8834,8883,8955,9136,9354,9414,9475,9535,9596,9656,9717,9777,9826,9886];
const adc6162 = [48,435,471,617,858,931,955,1124,1197,1257,1318,1378,1427,1523,1608,1777,1826,1922,1959,2164,2212,2345,2394,2523,2684,2817,2914,2986,3047,3395,3541,3601,3722,3770,4206,4254,4302,4363,4484,4604,4653,4798,4907,5028,5100,5402,5475,5548,5608,5729,5789,5898,5959,6007,6249,6297,6442,6539,6875,7021,7045,7130,7287,7976,8133,8339,8472,8496,8653,8677,8931,9003,9088,9221,9596,9656,9777,9850,9934];
const adc6161 = [73,169,254,435,459,592,931,1221,1318,1511,1596,1741,2019,2055,2128,2285,2382,2575,2696,2793,2877,2982,3166,3287,3601,3649,4290,4459,4508,4580,4653,4919,5064,5161,5221,5294,5402,5572,5644,5729,5777,5886,5934,5983,6164,6225,6333,6418,6478,6599,6672,6767,6972,7021,7093,7190,7250,7343,7484,7565,7782,7927,8085,8206,8290,8447,8641,8750,8967,9185,9257,9511,9656,9801,9874];
const adc6160 = [435,604,810,883,1052,1112,1173,1233,1342,1366,1535,1753,1922,2007,2092,2309,2406,2503,2575,2636,2902,3014,3275,3420,3601,3649,3710,3782,4435,4750,4834,4979,5511,5560,5632,5681,5826,6237,6333,6370,6515,6636,6779,6900,6960,7069,7250,7287,7444,7613,7843,7940,8097,8254,8592,8701,8842,8907,9112,9197,9414,9765,9850,9886];
const adc6159 = [133,218,375,484,520,617,689,846,979,1088,1487,1644,1693,1801,1850,2031,2321,2442,2539,2708,2793,2926,2962,3119,3141,3262,3335,3444,3504,3577,3843,3867,4073,4290,4399,4544,4665,4750,4883,4943,5076,5463,5693,5765,6164,6200,6345,6406,6490,6551,6708,6779,6997,7081,7468,7601,7661,7806,7879,7952,8036,8085,8193,8375,8677,8943,9028,9161,9185,9402,9813];
const adc6158 = [97,496,568,750,858,1064,1257,1535,1741,1971,2176,2297,2479,3119,3129,3335,3408,3843,3891,3952,4242,4278,4750,5040,5112,5366,5451,5499,5584,5814,5971,6007,6092,6116,6587,7456,8097,8556,8895,8931,9136,9608,9729,9874];
const adc6157 = [520,967,1040,1185,1390,1934,2261,2648,2664,3202,3516,3565,3625,3746,3807,4024,4060,4145,4218,4556,4762,4858,4943,4991,5342,5439,5741,5886,5983,6116,6442,6803,6864,7154,7226,7794,8399,8508,8774,9064,9282,9499,9922];
const adc6156 = [314,580,1402,1910,1934,2781,3782,5197,5257,5584,5910,6188,6321,6394,7250,7855,8000,9233];
const adc6155 = [60,592,798,1003,1161,1209,2237,2563,3202,4471,4810,5016,5427,5862,6055,6273,6382,6406,6696,6936,7202,7323,7540,7673,8036,8048,8786,8931,9390,9402,9850];
const adc6154 = [1100,1149,1306,1475,1789,2515,4085,4266,4991,6225,6333,6418,6684,7528,7625,8411,9124];
const adc6153 = [157,1088,2442,4810,5016,5052,5390,5620,6839,7081,7287,7831,8278];
const adc6152 = [762,4520,7311,8967,9378,9426,9765];
const adc6151 = [834,2297,2660,5136,9439,9487];
const adc6149 = [9052];
const adc6148 = [5753];
const adc6147 = [7758,8266];
const adc6146 = [8193];
const adc6144 = [3395];

const adcLevels = [
  [6203,adc6203],[6202,adc6202],[6201,adc6201],[6200,adc6200],[6199,adc6199],[6198,adc6198],[6197,adc6197],
  [6196,adc6196],[6195,adc6195],[6194,adc6194],[6193,adc6193],[6192,adc6192],[6191,adc6191],[6190,adc6190],
  [6189,adc6189],[6188,adc6188],[6187,adc6187],[6186,adc6186],[6185,adc6185],[6184,adc6184],[6183,adc6183],
  [6182,adc6182],[6181,adc6181],[6180,adc6180],[6179,adc6179],[6178,adc6178],[6177,adc6177],[6176,adc6176],
  [6175,adc6175],[6174,adc6174],[6173,adc6173],[6172,adc6172],[6171,adc6171],[6170,adc6170],[6169,adc6169],
  [6168,adc6168],[6167,adc6167],[6166,adc6166],[6165,adc6165],[6164,adc6164],[6163,adc6163],[6162,adc6162],
  [6161,adc6161],[6160,adc6160],[6159,adc6159],[6158,adc6158],[6157,adc6157],[6156,adc6156],[6155,adc6155],
  [6154,adc6154],[6153,adc6153],[6152,adc6152],[6151,adc6151],[6149,adc6149],[6148,adc6148],[6147,adc6147],
  [6146,adc6146],[6144,adc6144]
];
const xTicks = [0,2000,4000,6000,8000,10000];
const yTicks = [6150,6160,6170,6180,6190,6200];

const puntos = [];
adcLevels.forEach(([adc, samples]) => samples.forEach(s => puntos.push({x: s, y: adc})));

const fuente = "'DejaVu Sans', sans-serif";

// marco de los ejes y leyenda por encima de los puntos
const marcoYLeyenda = {
  id: 'marcoYLeyenda',
  afterDatasetsDraw(chart) {
    const ctx = chart.ctx, a = chart.chartArea;
    ctx.save();
    ctx.strokeStyle = '#000';
    ctx.lineWidth = 1;
    ctx.strokeRect(a.left, a.top, a.right - a.left, a.bottom - a.top);

    ctx.beginPath();
    ctx.roundRect(771.5, 42.5, 207, 45, 3);
    ctx.fillStyle = 'rgba(255,255,255,0.8)';
    ctx.fill();
    ctx.strokeStyle = 'rgba(204,204,204,0.8)';
    ctx.stroke();

    ctx.fillStyle = '#000';
    ctx.beginPath();
    ctx.arc(790.3, 65.3, 2.6, 0, Math.PI * 2);
    ctx.fill();

    ctx.textBaseline = 'alphabetic';
    ctx.font = '13.9px ' + fuente;
    ctx.fillText('Samples', 815.5, 59);
    let x = 815.5;
    [['\u03bc', true], [' = 6175.62, ', false], ['\u03c3', true], [' = 8.34', false]].forEach(([t, it]) => {
      ctx.font = (it ? 'italic ' : '') + '13.9px ' + fuente;
      ctx.fillText(t, x, 76);
      x += ctx.measureText(t).width;
    });
    ctx.restore();
  }
};

new Chart(document.getElementById('grafico').getContext('2d'), {
  type: 'scatter',
  data: {
    datasets: [{
      label: 'Samples',
      data: puntos,
      pointRadius: 2.6,
      pointBackgroundColor: '#000',
      pointBorderWidth: 0
    }]
  },
  options: {
    responsive: false,
    animation: false,
    layout: { padding: { left: 0, right: 15, top: 0, bottom: 0 } },
    plugins: {
      legend: { display: false },
      tooltip: { enabled: false },
      title: {
        display: true,
        fullSize: false,
        text: 'Run 453, channel043, Pedestal',
        color: '#000',
        font: { family: fuente, size: 16.67, weight: 'normal', lineHeight: 1 },
        padding: { top: 14, bottom: 4.5 }
      }
    },
    scales: {
      x: {
        type: 'linear',
        min: -487,
        max: 10437,
        afterBuildTicks: axis => { axis.ticks = xTicks.map(v => ({ value: v })); },
        afterFit: axis => { axis.height = 58; },
        grid: { color: '#b0b0b0', lineWidth: 1, tickColor: '#000', tickLength: 5 },
        border: { display: false },
        ticks: { color: '#000', maxRotation: 0, padding: 4, font: { family: fuente, size: 13.9 }, callback: v => String(v) },
        title: { display: true, text: 'Sample #', color: '#000', font: { family: fuente, size: 13.9 }, padding: { top: 2, bottom: 13 } }
      },
      y: {
        type: 'linear',
        min: 6141.06,
        max: 6205.96,
        afterBuildTicks: axis => { axis.ticks = yTicks.map(v => ({ value: v })); },
        afterFit: axis => { axis.width = 81; },
        grid: { color: '#b0b0b0', lineWidth: 1, tickColor: '#000', tickLength: 5 },
        border: { display: false },
        ticks: { color: '#000', padding: 6, font: { family: fuente, size: 13.9 }, callback: v => String(v) },
        title: { display: true, text: 'ADC Counts', color: '#000', font: { family: fuente, size: 13.9 }, padding: { top: 13, bottom: 4 } }
      }
    }
  },
  plugins: [marcoYLeyenda]
});
</script>
</body>
</html>
